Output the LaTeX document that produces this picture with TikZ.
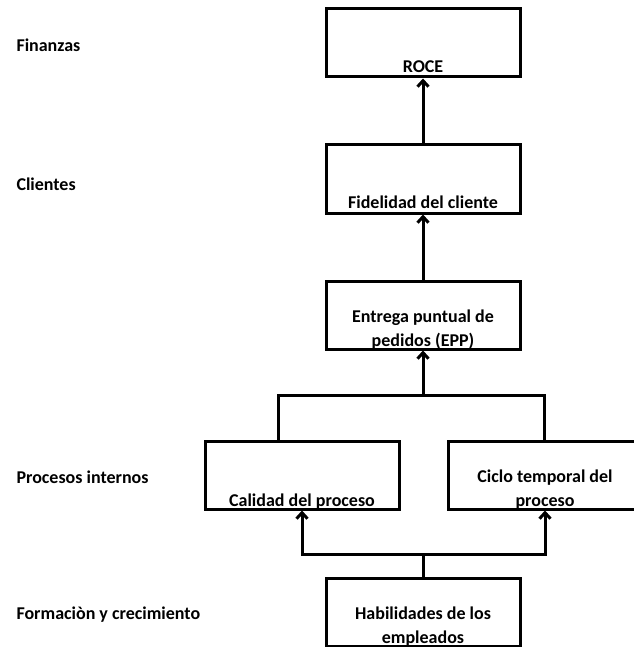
\documentclass[tikz,border=0pt]{standalone}
\usepackage{fontspec}
\setmainfont{Carlito}
\usetikzlibrary{arrows.meta}

\begin{document}
\begin{tikzpicture}[x=1pt, y=-1pt, line width=3pt,
  caja/.style={draw, minimum width=194pt, minimum height=68pt, inner sep=0pt},
  rotulo/.style={anchor=south, inner sep=0pt, align=center,
    font=\bfseries\fontsize{18}{24}\selectfont},
  nivel/.style={anchor=west, inner sep=0pt, font=\bfseries\fontsize{18}{24}\selectfont},
  flecha/.style={-{Straight Barb[length=6pt, width=11pt]}}]
  \useasboundingbox (0,0) rectangle (633,647);

  % perspectivas
  \node[nivel] (finanzas) at (15,45) {Finanzas};
  \node[nivel] (clientes) at (15,184) {Clientes};
  \node[nivel] (procesos) at (15,477) {Procesos internos};
  \node[nivel] (formacion) at (15,615) {Formaciòn y crecimiento};

  % cajas
  \node[caja] (roce) at (423,43) {};
  \node[caja] (fidelidad) at (423,179) {};
  \node[caja] (epp) at (423,315) {};
  \node[caja] (calidad) at (302,475) {};
  \node[caja] (ciclo) at (545,475) {};
  \node[caja] (habilidades) at (423,612) {};

  \node[rotulo, yshift=4pt] (t-roce) at (roce.south) {ROCE};
  \node[rotulo, yshift=4pt] (t-fidelidad) at (fidelidad.south) {Fidelidad del cliente};
  \node[rotulo] (t-epp) at (epp.south) {Entrega puntual de\\pedidos (EPP)};
  \node[rotulo] (t-calidad) at (calidad.south) {Calidad del proceso};
  \node[rotulo] (t-ciclo) at (ciclo.south) {Ciclo temporal del\\proceso};
  \node[rotulo] (t-habilidades) at (habilidades.south) {Habilidades de los\\empleados};

  \coordinate (union) at (423,395);
  \coordinate (izq) at (278,395);
  \coordinate (der) at (544,395);
  \coordinate (base) at (423,554);

  \draw[flecha] (fidelidad) -- (roce);
  \draw[flecha] (epp) -- (fidelidad);
  \draw[flecha] (union) -- (epp);
  \draw (izq |- calidad.north) -- (izq) -- (der) -- (der |- ciclo.north);
  \draw (habilidades) -- (base);
  \draw[flecha] (base) -| (calidad);
  \draw[flecha] (base) -| (ciclo);
\end{tikzpicture}
\end{document}
